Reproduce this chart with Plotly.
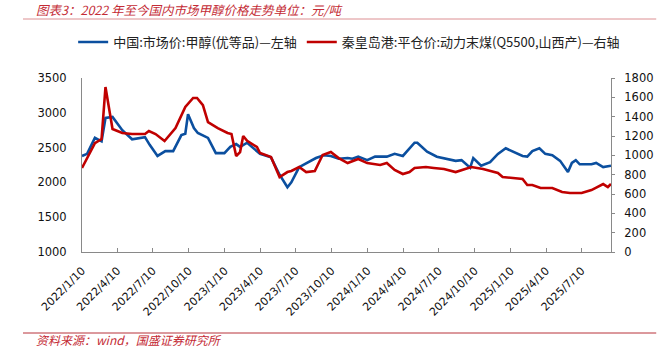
import plotly.graph_objects as go

# 甲醇市场价（左轴，元/吨）
methanol_dates = [
    "2022-01-10", "2022-01-23", "2022-02-12", "2022-03-01", "2022-03-11", "2022-03-29",
    "2022-04-23", "2022-05-18", "2022-06-20", "2022-07-02", "2022-07-22", "2022-08-11",
    "2022-08-31", "2022-09-21", "2022-10-01", "2022-10-08", "2022-10-23", "2022-11-02",
    "2022-11-28", "2022-12-18", "2023-01-09", "2023-01-24", "2023-02-08", "2023-02-18",
    "2023-03-08", "2023-04-02", "2023-04-10", "2023-05-08", "2023-05-30", "2023-06-19",
    "2023-06-29", "2023-07-19", "2023-08-11", "2023-08-31", "2023-09-20", "2023-10-08",
    "2023-10-28", "2023-11-20", "2023-12-02", "2023-12-17", "2024-01-09", "2024-01-29",
    "2024-02-28", "2024-03-19", "2024-04-09", "2024-05-09", "2024-05-16", "2024-06-10",
    "2024-07-05", "2024-07-23", "2024-08-22", "2024-09-06", "2024-09-28", "2024-10-06",
    "2024-10-26", "2024-11-18", "2024-12-08", "2024-12-28", "2025-01-15", "2025-02-09",
    "2025-02-21", "2025-03-06", "2025-03-24", "2025-04-08", "2025-04-26", "2025-05-16",
    "2025-06-05", "2025-06-15", "2025-06-25", "2025-07-05", "2025-08-04", "2025-08-16",
    "2025-09-03", "2025-09-23",
]
methanol_price = [
    2380, 2410, 2640, 2590, 2925, 2940,
    2750, 2620, 2650, 2540, 2380, 2450,
    2450, 2680, 2700, 2980, 2780, 2710,
    2640, 2420, 2420, 2510, 2550, 2510,
    2570, 2440, 2410, 2360, 2110, 1930,
    2000, 2220, 2290, 2350, 2390, 2380,
    2340, 2350, 2340, 2370, 2320, 2370,
    2370, 2410, 2380, 2570, 2570, 2440,
    2370, 2350, 2310, 2320, 2210, 2350,
    2240, 2290, 2410, 2490, 2440, 2380,
    2370, 2450, 2490, 2410, 2390, 2310,
    2150, 2280, 2320, 2260, 2260, 2280,
    2220, 2240,
]

# 秦皇岛港动力末煤平仓价（右轴，元/吨）
coal_dates = [
    "2022-01-10", "2022-02-12", "2022-03-01", "2022-03-11", "2022-03-29", "2022-04-23",
    "2022-05-18", "2022-06-20", "2022-06-30", "2022-07-17", "2022-08-09", "2022-09-06",
    "2022-10-01", "2022-10-08", "2022-10-21", "2022-10-31", "2022-11-15", "2022-11-28",
    "2022-12-23", "2023-01-17", "2023-01-27", "2023-02-08", "2023-02-18", "2023-02-26",
    "2023-03-08", "2023-04-02", "2023-04-10", "2023-05-08", "2023-05-30", "2023-06-19",
    "2023-06-29", "2023-07-19", "2023-08-06", "2023-08-28", "2023-09-17", "2023-10-08",
    "2023-10-28", "2023-11-20", "2023-12-17", "2024-01-09", "2024-02-11", "2024-02-28",
    "2024-03-19", "2024-04-09", "2024-04-26", "2024-05-09", "2024-06-07", "2024-06-27",
    "2024-07-23", "2024-08-22", "2024-10-01", "2024-10-31", "2024-12-08", "2024-12-20",
    "2025-01-15", "2025-02-09", "2025-02-21", "2025-03-06", "2025-03-27", "2025-04-26",
    "2025-05-21", "2025-06-10", "2025-07-10", "2025-08-04", "2025-09-03", "2025-09-15",
    "2025-09-23",
]
coal_price = [
    869, 1127, 1169, 1706, 1272, 1231,
    1220, 1220, 1251, 1220, 1148, 1282,
    1500, 1530, 1593, 1593, 1520, 1344,
    1282, 1231, 1220, 993, 1034, 1200,
    1150, 1086, 1024, 982, 776, 827,
    838, 879, 827, 838, 1003, 1034,
    972, 920, 962, 920, 900, 920,
    848, 807, 827, 869, 879, 869,
    858, 827, 879, 858, 817, 776,
    765, 755, 693, 693, 662, 662,
    620, 610, 610, 641, 703, 672,
    703,
]

tick_dates = [
    "2022-01-10", "2022-04-10", "2022-07-10", "2022-10-10",
    "2023-01-10", "2023-04-10", "2023-07-10", "2023-10-10",
    "2024-01-10", "2024-04-10", "2024-07-10", "2024-10-10",
    "2025-01-10", "2025-04-10", "2025-07-10",
]
tick_labels = [
    "2022/1/10", "2022/4/10", "2022/7/10", "2022/10/10",
    "2023/1/10", "2023/4/10", "2023/7/10", "2023/10/10",
    "2024/1/10", "2024/4/10", "2024/7/10", "2024/10/10",
    "2025/1/10", "2025/4/10", "2025/7/10",
]

W, H = 666, 347
L, R, T, B = 82, 620, 78, 252   # plot area in pixels

def px_x(px):
    return (px - L) / (R - L)

def px_y(py):
    return (B - py) / (B - T)

BLUE = "#0b4f9f"
RED = "#c00000"
AXIS = "#898989"
TXT_RED = "#c42b35"
CJK = "Noto Sans CJK SC"
NUM = "DejaVu Sans"

fig = go.Figure()
fig.add_trace(go.Scatter(
    x=methanol_dates, y=methanol_price, mode="lines",
    name="中国:市场价:甲醇(优等品)—左轴",
    line=dict(color=BLUE, width=2.6), yaxis="y",
))
fig.add_trace(go.Scatter(
    x=coal_dates, y=coal_price, mode="lines",
    name="秦皇岛港:平仓价:动力末煤(Q5500,山西产)—右轴",
    line=dict(color=RED, width=2.6), yaxis="y2",
))

fig.update_layout(
    width=W, height=H,
    margin=dict(l=L, r=W - R, t=T, b=H - B, pad=0),
    paper_bgcolor="white", plot_bgcolor="white",
    showlegend=True,
    legend=dict(
        orientation="h", x=px_x(73), xanchor="left", y=px_y(42), yanchor="middle",
        font=dict(family=CJK, size=13, color="#222222"),
        bgcolor="rgba(0,0,0,0)", itemwidth=30, tracegroupgap=0,
    ),
    xaxis=dict(
        type="date", range=["2022-01-10", "2025-09-23"],
        tickmode="array", tickvals=tick_dates, ticktext=tick_labels,
        tickangle=-45, tickfont=dict(family=NUM, size=11, color="#111111"),
        ticklabelstandoff=7,
        showline=True, linecolor=AXIS, linewidth=1,
        ticks="inside", ticklen=4, tickcolor=AXIS,
        showgrid=False, zeroline=False,
    ),
    yaxis=dict(
        range=[1000, 3500], dtick=500, tick0=1000,
        tickfont=dict(family=NUM, size=11.5, color="#111111"),
        showline=True, linecolor=AXIS, linewidth=1,
        ticks="", ticklabelstandoff=12,
        showgrid=False, zeroline=False,
    ),
    yaxis2=dict(
        overlaying="y", side="right",
        range=[0, 1800], dtick=200, tick0=0,
        tickfont=dict(family=NUM, size=11.5, color="#111111"),
        showline=True, linecolor=AXIS, linewidth=1,
        ticks="outside", ticklen=3, tickcolor=AXIS,
        ticklabelstandoff=7,
        showgrid=False, zeroline=False,
    ),
    font=dict(family=CJK),
)

# 标题与资料来源
fig.add_annotation(
    text="<i>图表3：2022 年至今国内市场甲醇价格走势单位：元/吨</i>",
    xref="paper", yref="paper", x=px_x(33), y=px_y(9),
    xanchor="left", yanchor="middle", showarrow=False,
    font=dict(family=CJK, size=12.5, color=TXT_RED),
)
fig.add_annotation(
    text="<i>资料来源：wind，国盛证券研究所</i>",
    xref="paper", yref="paper", x=px_x(33), y=px_y(339),
    xanchor="left", yanchor="middle", showarrow=False,
    font=dict(family=CJK, size=12, color=TXT_RED),
)
fig.add_shape(
    type="line", xref="paper", yref="paper",
    x0=px_x(22), x1=px_x(666), y0=px_y(19), y1=px_y(19),
    line=dict(color="#dc8f92", width=1),
)
fig.add_shape(
    type="line", xref="paper", yref="paper",
    x0=px_x(22), x1=px_x(666), y0=px_y(333), y1=px_y(333),
    line=dict(color="#b8333a", width=1),
)

fig.write_html("out.html")
